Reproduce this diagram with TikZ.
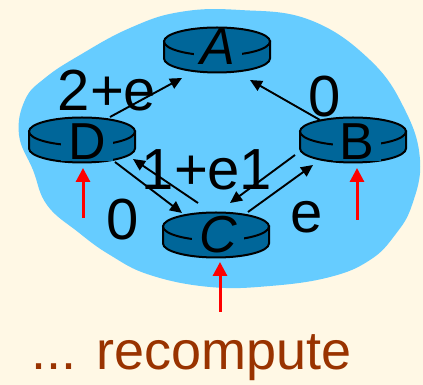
\documentclass[tikz,border=0pt]{standalone}
\usepackage{fontspec}
\setmainfont{Liberation Sans}
\usetikzlibrary{arrows.meta}
\definecolor{bgcream}{HTML}{FFF8E5}
\definecolor{blobblue}{HTML}{66CCFF}
\definecolor{routerblue}{HTML}{006699}
\definecolor{brownish}{HTML}{993300}
\newcommand\drawrouter[1]{%
  \filldraw[rtr] ([shift={(-53,8.5)}]#1.center) -- ([shift={(-53,-8.5)}]#1.center)
    arc[start angle=180,end angle=360,x radius=53,y radius=14]
    -- ([shift={(53,8.5)}]#1.center) -- cycle;
  \filldraw[rtr] ([shift={(0,8.5)}]#1.center) ellipse[x radius=53,y radius=14];}
\tikzset{
  rtr/.style={fill=routerblue, draw=black, line width=2pt},
  routerbox/.style={inner sep=0pt, minimum width=106pt, minimum height=45pt},
  letter/.style={fill=routerblue, inner xsep=7pt, inner ysep=1pt, minimum width=46pt,
    font=\fontsize{52}{52}\selectfont, anchor=base, text height=24pt, text depth=0pt},
  conn/.style={line width=1.9pt, -{Triangle[length=12pt,width=11pt]}},
  redarr/.style={draw=red, line width=3pt, -{Triangle[length=14pt,width=14pt]}, red},
  lbl/.style={font=\fontsize{58}{58}\selectfont, anchor=base, inner sep=0pt},
}
\begin{document}
\begin{tikzpicture}[x=1pt,y=1pt]
\fill[bgcream] (0,0) rectangle (423,385);
\useasboundingbox (0,0) rectangle (423,385);
\fill[blobblue] plot[smooth cycle, tension=0.7] coordinates {
 (180,373) (240,375) (310,365) (370,325) (405,275) (420,225) (412,180) (395,150)
 (370,125) (330,108) (270,99) (210,98) (150,110) (110,130) (78,153) (47,180)
 (33,215) (19,250) (25,285) (45,307) (80,330) (130,357)};
% routers
\node[routerbox] (A) at (217,335) {};
\node[routerbox] (D) at (82,245) {};
\node[routerbox] (B) at (353,245) {};
\node[routerbox] (C) at (216,150) {};
\drawrouter{A}
\drawrouter{D}
\drawrouter{B}
\drawrouter{C}
\node[letter] (Al) at (218,320) {\itshape A};
\node[letter] (Dl) at (87,225) {D};
\node[letter] (Bl) at (357,225) {B};
\node[letter] (Cl) at (218,132) {\itshape C};
% connectors
\draw[conn] ([shift={(28,23)}]D.center) -- ([shift={(-35,-28)}]A.center);
\draw[conn] ([shift={(-33,20)}]B.center) -- ([shift={(33,-30)}]A.center);
\draw[conn] ([shift={(33,-22)}]D.center) -- ([shift={(-34,22)}]C.center);
\draw[conn] ([shift={(-18,32)}]C.center) -- ([shift={(51,-19)}]D.center);
\draw[conn] ([shift={(-58,-15)}]B.center) -- ([shift={(14,32)}]C.center);
\draw[conn] ([shift={(32,23)}]C.center) -- ([shift={(-40,-25)}]B.center);
% red arrows
\coordinate (rD) at (83,167);
\coordinate (rB) at (357,165);
\coordinate (rC) at (220,73);
\draw[redarr] (rD) -- ([shift={(1,-28)}]D.center);
\draw[redarr] (rB) -- ([shift={(4,-28)}]B.center);
\draw[redarr] (rC) -- ([shift={(4,-27)}]C.center);
% labels
\node[lbl] (l1) at (107,274) {2+e};
\node[lbl] (l2) at (325,268) {0};
\node[lbl] (l3) at (123,145) {0};
\node[lbl] (l4) at (307,152) {e};
\node[lbl] (l5) at (191,195) {1+e};
\node[lbl] (l6) at (256,195) {1};
\node[anchor=base west, inner sep=0pt, text=brownish, font=\fontsize{54}{54}\selectfont] (rc) at (31,15) {... recompute};
\end{tikzpicture}
\end{document}
